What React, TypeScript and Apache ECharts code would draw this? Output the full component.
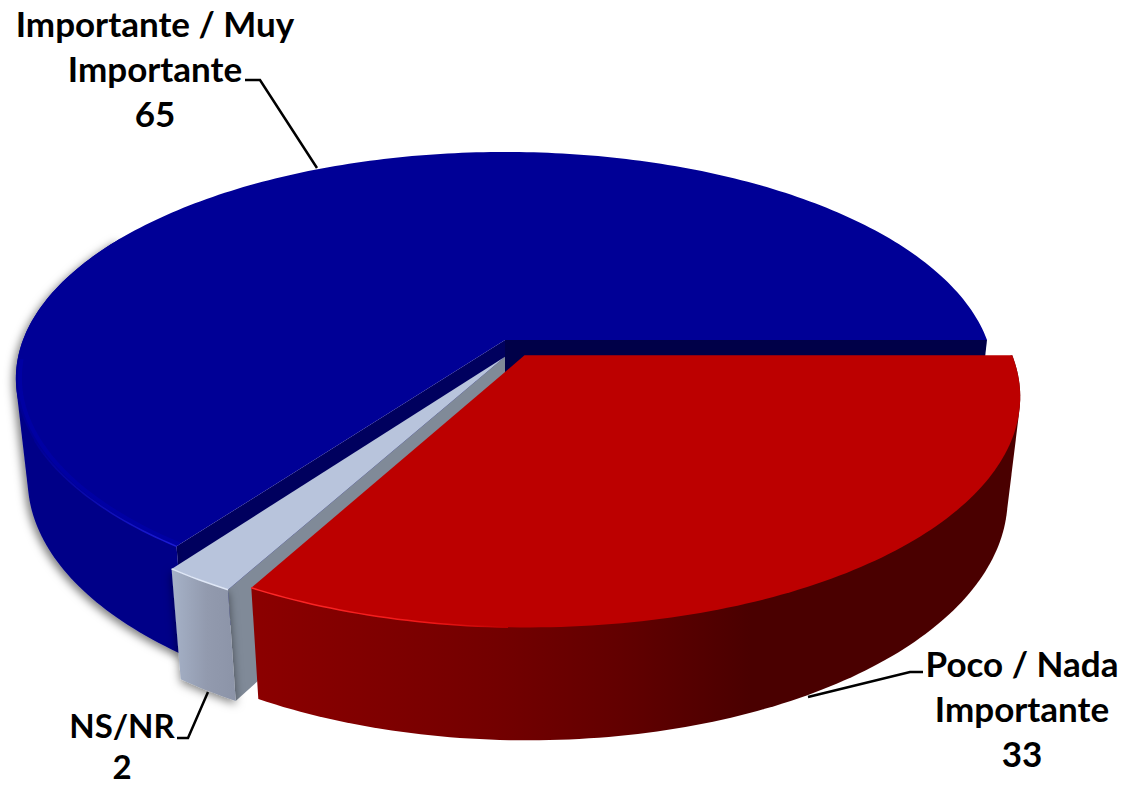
import React, { useEffect, useRef } from "react";
import * as echarts from "echarts";

const categories = ["Importante / Muy\nImportante", "NS/NR", "Poco / Nada\nImportante"];
const values = [65, 2, 33];

// Projection and look of the 3D pie (not data)
const CX = 505, CY = 340, R = 482, RY = 220, K = 0.17, H = 102, M = 0.024;
const explode = [[0, 0], [0, 0.075], [0.04, 0.069]];
const topColors = ["#000096", "#b8c4dc", "#bc0000"];
const labelPos = [[155, 23], [122, 725], [1022, 663]];
const lineSteps = [45, 41, 45];
const fontSizes = [35, 33, 35];
const labelLine = [
  [[245, 80], [260, 80], [317, 168]],
  [[177, 738], [188, 738], [208, 692]],
  [[923, 672], [910, 672], [808, 697]],
];

const total = values.reduce((a, b) => a + b, 0);

function project(x: number, y: number, z: number): number[] {
  const w = 1 - K * y + M * z;
  return [CX + (R * x) / w, CY + (RY * y + H * z) / w];
}

function rimPoint(deg: number, off: number[], z: number, r = 1): number[] {
  const a = (deg * Math.PI) / 180;
  return project(off[0] + r * Math.cos(a), off[1] - r * Math.sin(a), z);
}

function rim(a0: number, a1: number, off: number[], z: number, r = 1): number[][] {
  const out: number[][] = [];
  const n = Math.max(2, Math.ceil(Math.abs(a1 - a0)));
  for (let i = 0; i <= n; i++) out.push(rimPoint(a0 + ((a1 - a0) * i) / n, off, z, r));
  return out;
}

// Outline of a curved wall: its two rims joined along their common tangents
function hull(points: number[][]): number[][] {
  const p = [...points].sort((a, b) => a[0] - b[0] || a[1] - b[1]);
  const cross = (o: number[], a: number[], b: number[]) =>
    (a[0] - o[0]) * (b[1] - o[1]) - (a[1] - o[1]) * (b[0] - o[0]);
  const half = (list: number[][]) => {
    const out: number[][] = [];
    for (const q of list) {
      while (out.length >= 2 && cross(out[out.length - 2], out[out.length - 1], q) <= 0) out.pop();
      out.push(q);
    }
    out.pop();
    return out;
  };
  return [...half(p), ...half([...p].reverse())];
}

const hGrad = (stops: [number, string][]) =>
  new echarts.graphic.LinearGradient(0, 0, 1, 0, stops.map(([offset, color]) => ({ offset, color })));

function poly(points: number[][], fill: any, extra: any = {}) {
  return { type: "polygon", shape: { points }, style: { fill, ...extra } };
}
function line(points: number[][], stroke: any, lineWidth: number) {
  return { type: "polyline", shape: { points }, style: { fill: "none", stroke, lineWidth } };
}

function renderSlice(params: any, api: any) {
  const i = params.dataIndex;
  const value = api.value(0);
  let sum = 0;
  for (let j = 0; j < i; j++) sum += values[j];
  const a0 = (sum / total) * 360;
  const a1 = a0 + (value / total) * 360;
  const off = explode[i];
  const apex = project(off[0], off[1], 0);
  const apexB = project(off[0], off[1], 1);
  const children: any[] = [];

  if (i === 0) {
    // inner radial faces
    children.push(poly([apex, rimPoint(a0, off, 0), rimPoint(a0, off, 1), apexB], "#000048"));
    children.push(poly([apex, rimPoint(a1, off, 0), rimPoint(a1, off, 1), apexB], "#00005e"));
    const s = 150;
    children.push(
      poly(hull([...rim(s, a1, off, 0), ...rim(a1, s, off, 1)]), "#000088", {
        shadowBlur: 9,
        shadowColor: "rgba(0,0,0,0.5)",
        shadowOffsetX: -3,
        shadowOffsetY: 3,
      })
    );
  } else if (i === 1) {
    children.push(poly([apex, rimPoint(a1, off, 0), rimPoint(a1, off, 1), apexB], "#808a98"));
    children.push(
      poly([...rim(a0, a1, off, 0), ...rim(a1, a0, off, 1)], hGrad([[0, "#a6b2c8"], [0.55, "#929aae"], [1, "#8c94a8"]]), {
        shadowBlur: 10,
        shadowColor: "rgba(0,0,0,0.5)",
        shadowOffsetY: 3,
      })
    );
  } else {
    children.push(
      poly(
        hull([...rim(a0, a1, off, 0), ...rim(a1, a0, off, 1)]),
        hGrad([[0, "#8c0000"], [0.33, "#720000"], [0.48, "#620000"], [0.65, "#4a0000"], [1, "#4a0000"]])
      )
    );
  }

  children.push(poly([apex, ...rim(a0, a1, off, 0)], topColors[i]));

  if (i === 0) {
    children.push(line(rim(185, a1, off, 0, 0.992), "rgba(0,0,190,0.35)", 4));
    children.push(line(rim(205, a1, off, 0), hGrad([[0, "#000096"], [1, "#1c1cd8"]]), 1.5));
  } else if (i === 1) {
    children.push(line(rim(a0, a1, off, 0), "#dfe7f6", 1.5));
  } else {
    children.push(line(rim(a0, 268, off, 0), hGrad([[0, "#ff2a2a"], [0.7, "#f01818"], [1, "#bc0000"]]), 1.5));
  }

  return { type: "group", children };
}

function renderLabel(params: any, api: any) {
  const i = params.dataIndex;
  const [x, y] = labelPos[i];
  const lines = `${categories[i]}\n${api.value(0)}`.split("\n");
  return {
    type: "group",
    children: [
      {
        type: "polyline",
        shape: { points: labelLine[i] },
        style: { fill: "none", stroke: "#000", lineWidth: 2.5 },
      },
      ...lines.map((text, n) => ({
        type: "text",
        x,
        y: y + n * lineSteps[i],
        style: {
          text,
          font: `bold ${fontSizes[i]}px Lato, "Open Sans", sans-serif`,
          fill: "#000",
          align: "center",
          verticalAlign: "middle",
          lineHeight: 26,
        },
      })),
    ],
  };
}

export default function App() {
  const ref = useRef<HTMLDivElement>(null);
  useEffect(() => {
    document.body.style.margin = "0";
    const chart = echarts.init(ref.current!, null, { renderer: "svg" });
    const data = values.map((v) => [v]);
    chart.setOption({
      animation: false,
      backgroundColor: "#ffffff",
      series: [
        { type: "custom", coordinateSystem: "none", renderItem: renderSlice, data, silent: true },
        { type: "custom", coordinateSystem: "none", renderItem: renderLabel, data, silent: true, z: 5 },
      ],
    });
    return () => chart.dispose();
  }, []);
  return <div ref={ref} style={{ position: "absolute", left: 0, top: 0, width: 1124, height: 786 }} />;
}
